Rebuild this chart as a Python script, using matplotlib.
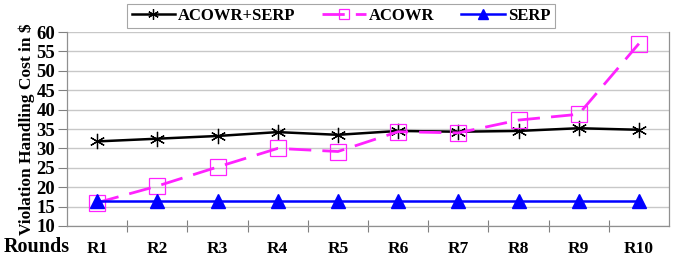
import matplotlib
matplotlib.use("Agg")
import matplotlib.pyplot as plt

rounds = ["R1", "R2", "R3", "R4", "R5", "R6", "R7", "R8", "R9", "R10"]
acowr_serp = [31.8, 32.5, 33.2, 34.2, 33.5, 34.5, 34.3, 34.5, 35.2, 34.8]
acowr = [16.0, 20.3, 25.2, 30.0, 29.2, 34.3, 34.0, 37.3, 38.8, 57.0]
serp = [16.5, 16.5, 16.5, 16.5, 16.5, 16.5, 16.5, 16.5, 16.5, 16.5]

plt.rcParams["font.family"] = ["Liberation Serif", "DejaVu Serif"]
plt.rcParams["font.weight"] = "bold"

fig = plt.figure(figsize=(6.73, 2.57), dpi=100)
ax = fig.add_axes([67 / 673, 31 / 257, 602 / 673, 194 / 257])

x = list(range(len(rounds)))
ax.plot(x, acowr_serp, color="black", lw=1.8, marker=(6, 2, 0), ms=11,
        mew=0.9, label="ACOWR+SERP", zorder=3)
ax.plot(x, acowr, color="#ff22ff", lw=2, ls=(0, (8, 4)), marker="s", ms=11,
        mfc="none", mec="#ff22ff", mew=0.9, label="ACOWR", zorder=4)
ax.plot(x, serp, color="#0000ff", lw=1.8, marker="^", ms=9.5,
        label="SERP", zorder=5)

ax.set_xlim(-0.5, len(rounds) - 0.5)
ax.set_ylim(10, 60)
ax.set_yticks(range(10, 61, 5))
ax.set_xticks(x)
ax.set_xticklabels(rounds)
ax.set_xticks([i + 0.5 for i in range(len(rounds) - 1)], minor=True)
ax.tick_params(axis="x", which="major", length=0, pad=11, labelsize=12.5)
ax.tick_params(axis="x", which="minor", length=8, width=0.8, direction="inout",
               color="#808080")
ax.tick_params(axis="y", length=6.5, width=0.8, labelsize=13.5, pad=2,
               color="#808080")
for lbl in ax.get_xticklabels() + ax.get_yticklabels():
    lbl.set_fontweight("bold")

ax.grid(axis="y", color="#c8c8c8", lw=1)
ax.set_axisbelow(True)
for s in ax.spines.values():
    s.set_color("#909090")
    s.set_linewidth(0.9)
ax.spines["top"].set_visible(False)

ax.set_ylabel("Violation Handling Cost in $", fontsize=12.5, fontweight="bold",
              labelpad=1)
fig.text(4 / 673, 1 - 247 / 257, "Rounds", fontsize=14.5, fontweight="bold",
         va="center", ha="left")

leg = fig.legend(loc="upper center", bbox_to_anchor=(341 / 673, 1.005), ncol=3,
                 fontsize=12, frameon=True, fancybox=False, edgecolor="#909090",
                 handlelength=2.6, handletextpad=0.2, columnspacing=1.6,
                 borderpad=0.25, borderaxespad=0.3, markerscale=0.7)
leg.get_frame().set_linewidth(0.8)

fig.savefig("out.png", dpi=100)
